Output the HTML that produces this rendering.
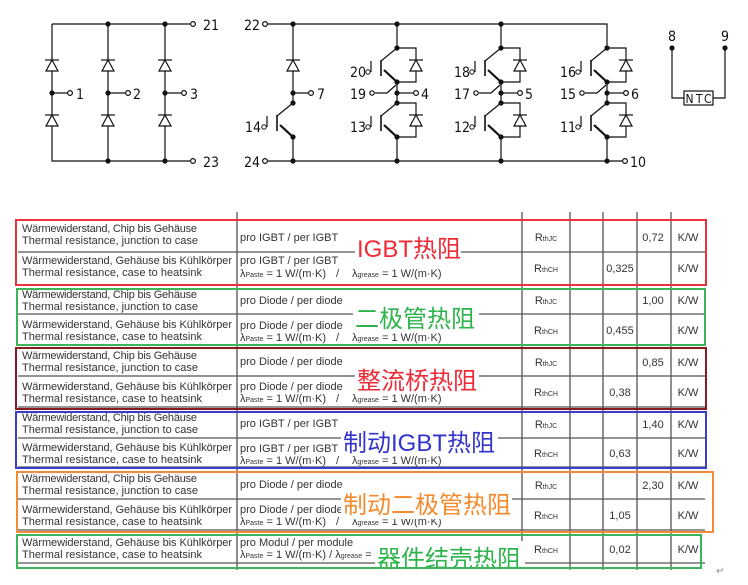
<!DOCTYPE html>
<html><head><meta charset="utf-8"><style>
html,body{margin:0;padding:0;background:#fff;width:748px;height:585px;overflow:hidden}
svg{display:block}
.c{font-family:"DejaVu Sans Condensed","DejaVu Sans",sans-serif;font-size:14px;fill:#111}
.t{font-family:"Liberation Sans",Arial,sans-serif;font-size:11px;fill:#333}
.s{font-size:7px}
.cn{font-family:"Liberation Sans","Noto Sans CJK SC",sans-serif;font-size:24px}
</style></head><body>
<svg width="748" height="585" viewBox="0 0 748 585" xmlns="http://www.w3.org/2000/svg">
<defs>
<g id="tr" stroke="#111" fill="none">
<line x1="0" y1="0" x2="-16" y2="13" stroke-width="1.2"/>
<line x1="-16" y1="12" x2="-16" y2="28" stroke-width="1.6"/>
<line x1="-13" y1="22" x2="0" y2="34" stroke-width="2.2"/>
<line x1="-26" y1="13" x2="-26" y2="24" stroke-width="1.2"/>
<circle cx="-29" cy="24" r="2.2" stroke-width="1"/>
<circle cx="0" cy="0" r="2.6" fill="#111" stroke="none"/>
<circle cx="0" cy="34" r="2.6" fill="#111" stroke="none"/>
</g>
<g id="di" stroke="#111" stroke-width="1.2" fill="#fff">
<polygon points="-6,6 6,6 0,-5"/>
<line x1="-7" y1="-5" x2="7" y2="-5"/>
</g>
<g id="leg" stroke="#111" stroke-width="1.2" fill="none">
<line x1="0" y1="82" x2="0" y2="103"/>
<line x1="0" y1="137" x2="0" y2="161"/>
<path d="M0,48 H19 V82 H0"/>
<path d="M0,103 H19 V137 H0"/>
<use href="#di" x="19" y="65"/>
<use href="#di" x="19" y="120"/>
<use href="#tr" x="0" y="48"/>
<use href="#tr" x="0" y="103"/>
<line x1="0" y1="93" x2="16" y2="93"/>
<circle cx="19" cy="93" r="2.4" fill="#fff"/>
<circle cx="-25" cy="93" r="2.2" fill="#fff"/>
<path d="M-22,93 H-10 L-1,85"/>
<circle cx="0" cy="93" r="2.6" fill="#111" stroke="none"/>
<circle cx="0" cy="161" r="2.6" fill="#111" stroke="none"/>
</g>
</defs>

<!-- Rectifier -->
<g stroke="#111" stroke-width="1.2" fill="none">
<path d="M52,24 H190 M52,24 V161 H190 M108,24 V161 M165,24 V161"/>
<circle cx="193" cy="24" r="2.4" fill="#fff"/>
<circle cx="193" cy="161" r="2.4" fill="#fff"/>
<path d="M52,93 H67 M108,93 H125 M165,93 H181"/>
<circle cx="70" cy="93" r="2.4" fill="#fff"/>
<circle cx="128" cy="93" r="2.4" fill="#fff"/>
<circle cx="184" cy="93" r="2.4" fill="#fff"/>
</g>
<use href="#di" x="52" y="65"/><use href="#di" x="108" y="65"/><use href="#di" x="165" y="65"/>
<use href="#di" x="52" y="120"/><use href="#di" x="108" y="120"/><use href="#di" x="165" y="120"/>
<g fill="#111">
<circle cx="52" cy="93" r="2.6"/><circle cx="108" cy="93" r="2.6"/><circle cx="165" cy="93" r="2.6"/>
<circle cx="108" cy="24" r="2.6"/><circle cx="165" cy="24" r="2.6"/>
<circle cx="108" cy="161" r="2.6"/><circle cx="165" cy="161" r="2.6"/>
</g>
<text class="c" x="203" y="30">21</text>
<text class="c" x="203" y="167">23</text>
<text class="c" x="76" y="99">1</text>
<text class="c" x="133" y="99">2</text>
<text class="c" x="190" y="99">3</text>

<!-- Brake + inverter rails -->
<g stroke="#111" stroke-width="1.2" fill="none">
<path d="M268,24 H607 V48"/>
<path d="M268,161 H622"/>
<circle cx="265" cy="24" r="2.4" fill="#fff"/>
<circle cx="265" cy="161" r="2.4" fill="#fff"/>
<circle cx="625" cy="161" r="2.4" fill="#fff"/>
<path d="M293,24 V103 M293,137 V161 M293,93 H308"/>
<circle cx="311" cy="93" r="2.4" fill="#fff"/>
<path d="M397,24 V48 M501,24 V48"/>
</g>
<use href="#di" x="293" y="65"/>
<use href="#tr" x="293" y="103"/>
<g fill="#111">
<circle cx="293" cy="24" r="2.6"/><circle cx="293" cy="93" r="2.6"/><circle cx="293" cy="161" r="2.6"/>
<circle cx="397" cy="24" r="2.6"/><circle cx="501" cy="24" r="2.6"/>
</g>
<use href="#leg" x="397" y="0"/>
<use href="#leg" x="501" y="0"/>
<use href="#leg" x="607" y="0"/>
<text class="c" x="244" y="30">22</text>
<text class="c" x="244" y="167">24</text>
<text class="c" x="317" y="99">7</text>
<text class="c" x="630" y="167">10</text>
<text class="c" x="261" y="132" text-anchor="end">14</text>
<g class="c" text-anchor="end">
<text x="366" y="77">20</text><text x="366" y="99">19</text><text x="366" y="132">13</text>
<text x="470" y="77">18</text><text x="470" y="99">17</text><text x="470" y="132">12</text>
<text x="576" y="77">16</text><text x="576" y="99">15</text><text x="576" y="132">11</text>
</g>
<text class="c" x="421" y="99">4</text>
<text class="c" x="525" y="99">5</text>
<text class="c" x="631" y="99">6</text>

<!-- NTC -->
<g stroke="#111" stroke-width="1.2" fill="none">
<path d="M672,48 V98 H684 M713,98 H725 V48"/>
<rect x="684" y="91" width="29" height="14"/>
</g>
<circle cx="672" cy="48" r="2.6" fill="#111"/><circle cx="725" cy="48" r="2.6" fill="#111"/>
<text class="c" x="668" y="41">8</text><text class="c" x="721" y="41">9</text>
<text class="c" x="698.5" y="103" text-anchor="middle" textLength="26" style="font-size:12px">NTC</text>

<!-- Table grid -->
<g stroke="#555" stroke-width="1.3">
<line x1="237" y1="212" x2="237" y2="570"/>
<line x1="522" y1="212" x2="522" y2="570"/>
<line x1="570" y1="212" x2="570" y2="570"/>
<line x1="603" y1="212" x2="603" y2="570"/>
<line x1="637" y1="212" x2="637" y2="570"/>
<line x1="671" y1="212" x2="671" y2="570"/>
<line x1="18" y1="252" x2="705" y2="252"/>
<line x1="18" y1="285" x2="705" y2="285"/>
<line x1="18" y1="314" x2="705" y2="314"/>
<line x1="18" y1="345" x2="705" y2="345"/>
<line x1="18" y1="376" x2="705" y2="376"/>
<line x1="18" y1="407" x2="705" y2="407"/>
<line x1="18" y1="438" x2="705" y2="438"/>
<line x1="18" y1="467" x2="705" y2="467"/>
<line x1="18" y1="499" x2="705" y2="499"/>
<line x1="18" y1="530" x2="705" y2="530"/>
<line x1="18" y1="563" x2="705" y2="563"/>
</g>

<!-- Table text left -->
<g class="t">
<text x="22" y="232" textLength="175">Wärmewiderstand, Chip bis Gehäuse</text>
<text x="22" y="244" textLength="176">Thermal resistance, junction to case</text>
<text x="22" y="264" textLength="210">Wärmewiderstand, Gehäuse bis Kühlkörper</text>
<text x="22" y="276" textLength="180">Thermal resistance, case to heatsink</text>
<text x="22" y="298" textLength="175">Wärmewiderstand, Chip bis Gehäuse</text>
<text x="22" y="310" textLength="176">Thermal resistance, junction to case</text>
<text x="22" y="328" textLength="210">Wärmewiderstand, Gehäuse bis Kühlkörper</text>
<text x="22" y="340" textLength="180">Thermal resistance, case to heatsink</text>
<text x="22" y="359" textLength="175">Wärmewiderstand, Chip bis Gehäuse</text>
<text x="22" y="371" textLength="176">Thermal resistance, junction to case</text>
<text x="22" y="390" textLength="210">Wärmewiderstand, Gehäuse bis Kühlkörper</text>
<text x="22" y="402" textLength="180">Thermal resistance, case to heatsink</text>
<text x="22" y="421" textLength="175">Wärmewiderstand, Chip bis Gehäuse</text>
<text x="22" y="433" textLength="176">Thermal resistance, junction to case</text>
<text x="22" y="451" textLength="210">Wärmewiderstand, Gehäuse bis Kühlkörper</text>
<text x="22" y="463" textLength="180">Thermal resistance, case to heatsink</text>
<text x="22" y="482" textLength="175">Wärmewiderstand, Chip bis Gehäuse</text>
<text x="22" y="494" textLength="176">Thermal resistance, junction to case</text>
<text x="22" y="513" textLength="210">Wärmewiderstand, Gehäuse bis Kühlkörper</text>
<text x="22" y="525" textLength="180">Thermal resistance, case to heatsink</text>
<text x="22" y="546" textLength="210">Wärmewiderstand, Gehäuse bis Kühlkörper</text>
<text x="22" y="558" textLength="180">Thermal resistance, case to heatsink</text>
</g>
<!-- Table text col2 -->
<g class="t">
<text x="240" y="241">pro IGBT / per IGBT</text>
<text x="240" y="264">pro IGBT / per IGBT</text>
<text x="240" y="277">λ<tspan class="s">Paste</tspan> = 1 W/(m·K)</text><text x="336" y="277">/</text><text x="352" y="277">λ<tspan class="s">grease</tspan> = 1 W/(m·K)</text>
<text x="240" y="304">pro Diode / per diode</text>
<text x="240" y="329">pro Diode / per diode</text>
<text x="240" y="341">λ<tspan class="s">Paste</tspan> = 1 W/(m·K)</text><text x="336" y="341">/</text><text x="352" y="341">λ<tspan class="s">grease</tspan> = 1 W/(m·K)</text>
<text x="240" y="365">pro Diode / per diode</text>
<text x="240" y="390">pro Diode / per diode</text>
<text x="240" y="402">λ<tspan class="s">Paste</tspan> = 1 W/(m·K)</text><text x="336" y="402">/</text><text x="352" y="402">λ<tspan class="s">grease</tspan> = 1 W/(m·K)</text>
<text x="240" y="427">pro IGBT / per IGBT</text>
<text x="240" y="452">pro IGBT / per IGBT</text>
<text x="240" y="464">λ<tspan class="s">Paste</tspan> = 1 W/(m·K)</text><text x="336" y="464">/</text><text x="352" y="464">λ<tspan class="s">grease</tspan> = 1 W/(m·K)</text>
<text x="240" y="488">pro Diode / per diode</text>
<text x="240" y="513">pro Diode / per diode</text>
<text x="240" y="525">λ<tspan class="s">Paste</tspan> = 1 W/(m·K)</text><text x="336" y="525">/</text><text x="352" y="525">λ<tspan class="s">grease</tspan> = 1 W/(m·K)</text>
<text x="240" y="546">pro Modul / per module</text>
<text x="240" y="558">λ<tspan class="s">Paste</tspan> = 1 W/(m·K) / λ<tspan class="s">grease</tspan> = 1</text>
</g>
<!-- symbols & values -->
<g class="t" text-anchor="middle">
<text x="546" y="241">R<tspan class="s">thJC</tspan></text>
<text x="546" y="272">R<tspan class="s">thCH</tspan></text>
<text x="546" y="304">R<tspan class="s">thJC</tspan></text>
<text x="546" y="334">R<tspan class="s">thCH</tspan></text>
<text x="546" y="366">R<tspan class="s">thJC</tspan></text>
<text x="546" y="396">R<tspan class="s">thCH</tspan></text>
<text x="546" y="428">R<tspan class="s">thJC</tspan></text>
<text x="546" y="457">R<tspan class="s">thCH</tspan></text>
<text x="546" y="489">R<tspan class="s">thJC</tspan></text>
<text x="546" y="519">R<tspan class="s">thCH</tspan></text>
<text x="546" y="553">R<tspan class="s">thCH</tspan></text>
<text x="653" y="241">0,72</text><text x="620" y="272">0,325</text>
<text x="653" y="304">1,00</text><text x="620" y="334">0,455</text>
<text x="653" y="366">0,85</text><text x="620" y="396">0,38</text>
<text x="653" y="428">1,40</text><text x="620" y="457">0,63</text>
<text x="653" y="489">2,30</text><text x="620" y="519">1,05</text>
<text x="620" y="553">0,02</text>
<text x="688" y="241">K/W</text><text x="688" y="272">K/W</text>
<text x="688" y="304">K/W</text><text x="688" y="334">K/W</text>
<text x="688" y="366">K/W</text><text x="688" y="396">K/W</text>
<text x="688" y="428">K/W</text><text x="688" y="457">K/W</text>
<text x="688" y="489">K/W</text><text x="688" y="519">K/W</text>
<text x="688" y="553">K/W</text>
</g>

<!-- label backgrounds -->
<g fill="#fff">
<rect x="355" y="231" width="106" height="32"/>
<rect x="353" y="300" width="126" height="32"/>
<rect x="355" y="362" width="124" height="32"/>
<rect x="341" y="424" width="157" height="32"/>
<rect x="341" y="487" width="171" height="32"/>
<rect x="375" y="541" width="150" height="32"/>
</g>
<g class="cn">
<text x="357" y="257" fill="#ee2a36">IGBT热阻</text>
<text x="355" y="327" fill="#2fb34c">二极管热阻</text>
<text x="357" y="389" fill="#ee2a36">整流桥热阻</text>
<text x="343" y="451" fill="#3333cc">制动IGBT热阻</text>
<text x="343" y="513" fill="#f68a2e">制动二极管热阻</text>
<text x="377" y="567" fill="#2fb34c">器件结壳热阻</text>
</g>

<!-- colored boxes -->
<g fill="none" stroke-width="2">
<rect x="16" y="220" width="690" height="65" stroke="#e8323c"/>
<rect x="17" y="289" width="688" height="56" stroke="#3cb55a"/>
<rect x="16" y="348" width="690" height="61" stroke="#8b1a22"/>
<rect x="16" y="412" width="690" height="56" stroke="#3c3cc8"/>
<rect x="17" y="472" width="696" height="60" stroke="#f58b3a"/>
<rect x="17" y="535" width="684" height="33" stroke="#3cb55a"/>
</g>
<text x="716" y="574" style="font-family:'DejaVu Sans';font-size:10px;fill:#888">↵</text>
</svg>
</body></html>
